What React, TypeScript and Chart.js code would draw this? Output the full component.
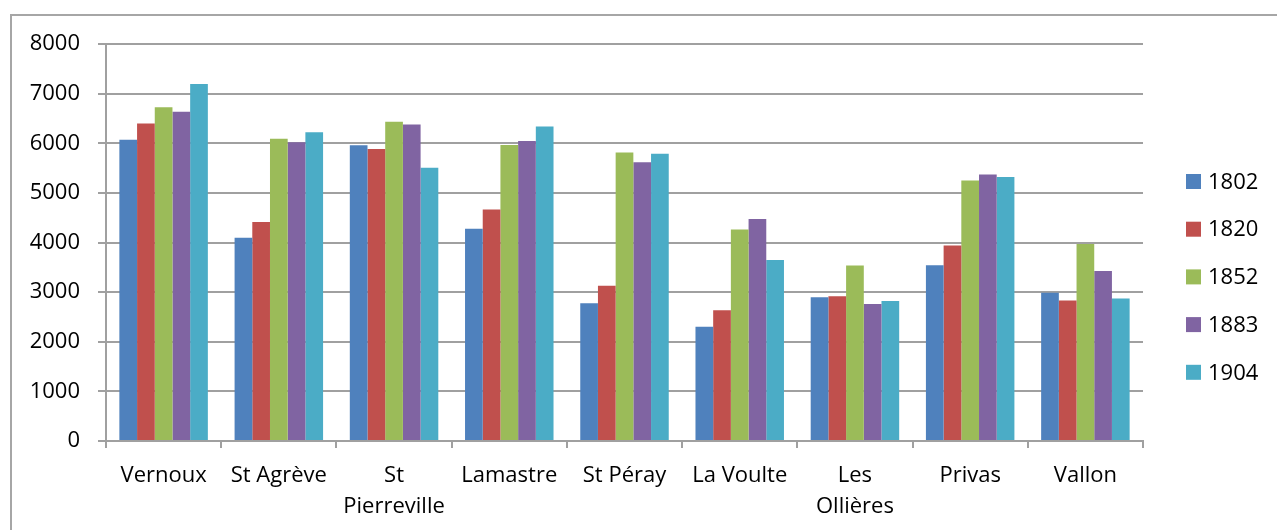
import React, { useEffect, useRef } from "react";
import { Chart, registerables } from "chart.js";

Chart.register(...registerables);

const categories: (string | string[])[] = [
  "Vernoux",
  "St Agrève",
  ["St", "Pierreville"],
  "Lamastre",
  "St Péray",
  "La Voulte",
  ["Les", "Ollières"],
  "Privas",
  "Vallon",
];

const seriesLabels = ["1802", "1820", "1852", "1883", "1904"];
const seriesColors = ["#4F81BD", "#C0504D", "#9BBB59", "#8064A2", "#4BACC6"];

const values1802 = [6070, 4095, 5960, 4275, 2775, 2300, 2895, 3540, 2985];
const values1820 = [6400, 4415, 5885, 4665, 3130, 2635, 2915, 3940, 2830];
const values1852 = [6725, 6090, 6435, 5965, 5815, 4260, 3535, 5250, 3970];
const values1883 = [6635, 6020, 6380, 6045, 5615, 4475, 2760, 5370, 3425];
const values1904 = [7195, 6220, 5505, 6340, 5790, 3645, 2820, 5320, 2870];

const seriesValues = [values1802, values1820, values1852, values1883, values1904];

const yTicks = [0, 1000, 2000, 3000, 4000, 5000, 6000, 7000, 8000];

const FONT = "'Open Sans', 'Noto Sans', sans-serif";

const legendPlugin = {
  id: "customLegend",
  afterDraw(chart: any) {
    const ctx = chart.ctx;
    ctx.save();
    ctx.font = `22px ${FONT}`;
    ctx.textBaseline = "middle";
    ctx.textAlign = "left";
    chart.data.datasets.forEach((ds: any, i: number) => {
      const cy = 181.5 + i * 47.7;
      ctx.fillStyle = ds.backgroundColor;
      ctx.fillRect(1186, cy - 7.5, 15, 15);
      ctx.fillStyle = "#000";
      ctx.fillText(ds.label, 1208, cy + 1);
    });
    ctx.restore();
  },
};

export default function App() {
  const canvasRef = useRef<HTMLCanvasElement | null>(null);

  useEffect(() => {
    if (!canvasRef.current) return;
    const chart = new Chart(canvasRef.current, {
      type: "bar",
      data: {
        labels: categories as any,
        datasets: seriesLabels.map((label, i) => ({
          label,
          data: seriesValues[i],
          backgroundColor: seriesColors[i],
          borderWidth: 0,
          categoryPercentage: 0.768,
          barPercentage: 1,
        })),
      },
      options: {
        animation: false,
        responsive: false,
        maintainAspectRatio: false,
        layout: { padding: { left: 0, top: 44, right: 134, bottom: 0 } },
        plugins: {
          legend: { display: false },
          tooltip: { enabled: false },
          title: { display: false },
        },
        scales: {
          x: {
            type: "category",
            offset: true,
            grid: {
              offset: true,
              drawOnChartArea: false,
              drawTicks: true,
              tickLength: 7,
              color: "#a0a0a0",
              lineWidth: 2,
            },
            border: { display: true, color: "#a0a0a0", width: 2 },
            ticks: {
              color: "#000",
              font: { family: FONT, size: 22, lineHeight: 1.41 },
              padding: 12,
              maxRotation: 0,
              minRotation: 0,
              autoSkip: false,
            },
            afterFit(scale: any) {
              scale.height = 89;
            },
          },
          y: {
            min: 0,
            max: 8000,
            afterBuildTicks(scale: any) {
              scale.ticks = yTicks.map((v) => ({ value: v }));
            },
            grid: {
              color: "#a0a0a0",
              lineWidth: 2,
              drawTicks: true,
              tickLength: 8,
            },
            border: { display: true, color: "#a0a0a0", width: 2 },
            ticks: {
              color: "#000",
              font: { family: FONT, size: 22 },
              padding: 18,
              callback: (v: any) => String(v),
            },
            afterFit(scale: any) {
              scale.width = 106;
            },
          },
        },
      },
      plugins: [legendPlugin],
    });
    return () => chart.destroy();
  }, []);

  return (
    <div
      style={{
        position: "fixed",
        left: 0,
        top: 0,
        width: 1277,
        height: 530,
        overflow: "hidden",
        background: "#fff",
      }}
    >
      <div
        style={{
          position: "absolute",
          left: 10,
          top: 14,
          width: 1400,
          height: 700,
          border: "2px solid #a6a6a6",
          boxSizing: "border-box",
        }}
      />
      <canvas
        ref={canvasRef}
        width={1277}
        height={530}
        style={{ position: "absolute", left: 0, top: 0 }}
      />
    </div>
  );
}
